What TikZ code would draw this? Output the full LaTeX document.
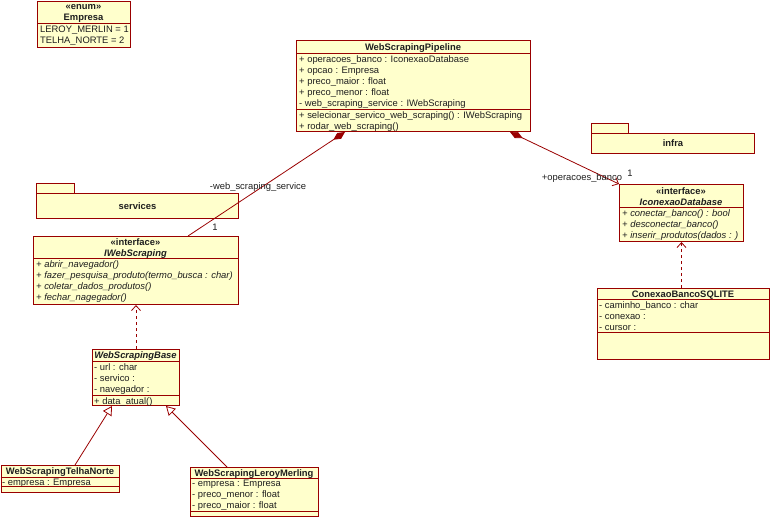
\documentclass[tikz,border=0pt]{standalone}
\usepackage{fontspec}
\setmainfont{Liberation Sans}
\usetikzlibrary{arrows.meta}

\definecolor{umlred}{RGB}{153,0,0}
\definecolor{umlfill}{RGB}{255,255,204}
\definecolor{umltext}{RGB}{30,30,30}
\newcommand{\umlfont}{\fontsize{9.4}{11}\selectfont}

\tikzset{
  every node/.style={font=\umlfont, text=umltext},
  classbox/.style={draw=umlred, fill=umlfill, line width=1pt, anchor=north west, inner sep=0pt},
  pkg/.style={draw=umlred, fill=umlfill, line width=1pt, anchor=north west, inner sep=0pt},
  title/.style={font=\umlfont\bfseries, align=center, inner sep=0pt, yshift=-1.5pt},
  members/.style={anchor=north west, inner sep=0pt, align=left, yshift=-1.8pt},
  sepline/.style={draw=umlred, line width=1pt},
  link/.style={draw=umlred, line width=0.8pt},
  realize/.style={link, dash pattern=on 3pt off 3pt, -{Straight Barb[length=5pt,width=9pt]}},
  inherit/.style={link, -{Triangle[open,length=9pt,width=10pt]}},
}

\begin{document}
\begin{tikzpicture}[x=1pt,y=-1pt]
\useasboundingbox (0,0) rectangle (772,517);

% enum Empresa
\node[classbox, minimum width=93pt, minimum height=46pt] (empresa) at (37,1) {};
\node[title] (empresatitle) at (83.5,12) {«enum»\\Empresa};
\draw[sepline] (37,23) -- (130,23);
\node[members] (empresaattr) at (40,24) {LEROY\_MERLIN = 1\\TELHA\_NORTE = 2};

% WebScrapingPipeline
\node[classbox, minimum width=234pt, minimum height=91pt] (pipeline) at (296,40) {};
\node[title] (pipelinetitle) at (413,46.5) {WebScrapingPipeline};
\draw[sepline] (296,53) -- (530,53);
\node[members] (pipelineattr) at (299,53.5) {+ operacoes\_banco : IconexaoDatabase\\+ opcao : Empresa\\+ preco\_maior : float\\+ preco\_menor : float\\- web\_scraping\_service : IWebScraping};
\draw[sepline] (296,109) -- (530,109);
\node[members] (pipelineops) at (299,109.5) {+ selecionar\_servico\_web\_scraping() : IWebScraping\\+ rodar\_web\_scraping()};

% packages
\node[pkg, minimum width=37pt, minimum height=10pt] (infratab) at (591,123) {};
\node[pkg, minimum width=163pt, minimum height=20pt, font=\umlfont\bfseries] (infra) at (591,133) {infra};
\node[pkg, minimum width=38pt, minimum height=10pt] (servicestab) at (36,183) {};
\node[pkg, minimum width=202pt, minimum height=25pt, font=\umlfont\bfseries] (services) at (36,193) {services};

% interface IWebScraping
\node[classbox, minimum width=205pt, minimum height=68pt] (iwebscraping) at (33,236) {};
\node[title] (iwebtitle) at (135.5,247) {«interface»\\\textit{IWebScraping}};
\draw[sepline] (33,258) -- (238,258);
\node[members, font=\umlfont\itshape] (iwebops) at (36,259) {+ abrir\_navegador()\\+ fazer\_pesquisa\_produto(termo\_busca : char)\\+ coletar\_dados\_produtos()\\+ fechar\_nagegador()};

% interface IconexaoDatabase
\node[classbox, minimum width=124pt, minimum height=57pt] (iconexao) at (619,184) {};
\node[title] (iconexaotitle) at (681,195.5) {«interface»\\\textit{IconexaoDatabase}};
\draw[sepline] (619,207) -- (743,207);
\node[members, font=\umlfont\itshape] (iconexaoops) at (622,207.5) {+ conectar\_banco() : bool\\+ desconectar\_banco()\\+ inserir\_produtos(dados : )};

% ConexaoBancoSQLITE
\node[classbox, minimum width=172pt, minimum height=71pt] (sqlite) at (597,288) {};
\node[title] (sqlitetitle) at (683,293.5) {ConexaoBancoSQLITE};
\draw[sepline] (597,299) -- (769,299);
\node[members] (sqliteattr) at (599,299.5) {- caminho\_banco : char\\- conexao :\\- cursor :};
\draw[sepline] (597,332) -- (769,332);

% WebScrapingBase
\node[classbox, minimum width=87pt, minimum height=56pt] (base) at (92,349) {};
\node[title, font=\umlfont\bfseries\itshape] (basetitle) at (135.5,355) {WebScrapingBase};
\draw[sepline] (92,361) -- (179,361);
\node[members] (baseattr) at (94,361.5) {- url : char\\- servico :\\- navegador :};
\draw[sepline] (92,395) -- (179,395);
\node[members] (baseops) at (94,395.3) {+ data\_atual()};

% WebScrapingTelhaNorte
\node[classbox, minimum width=118.5pt, minimum height=27pt] (telha) at (0.5,465) {};
\node[title] (telhatitle) at (60,471) {WebScrapingTelhaNorte};
\draw[sepline] (0.5,477) -- (119,477);
\node[members] (telhaattr) at (2,477) {- empresa : Empresa};
\draw[sepline] (0.5,486) -- (119,486);

% WebScrapingLeroyMerling
\node[classbox, minimum width=128pt, minimum height=49pt] (leroy) at (190,467) {};
\node[title] (leroytitle) at (254,472.5) {WebScrapingLeroyMerling};
\draw[sepline] (190,478) -- (318,478);
\node[members] (leroyattr) at (192,478.5) {- empresa : Empresa\\- preco\_menor : float\\- preco\_maior : float};
\draw[sepline] (190,511) -- (318,511);

% associations
\draw[link, {Diamond[length=14pt,width=7pt]}-] ([xshift=49pt]pipeline.south west) -- ([xshift=155pt]iwebscraping.north west);
\node (webservicerole) at (258,187) {-web\_scraping\_service};
\node (webservicemult) at (215,227) {1};

\draw[link, {Diamond[length=14pt,width=7pt]}-{Straight Barb[length=5pt,width=9pt]}] ([xshift=214pt]pipeline.south west) -- (iconexao.north west);
\node (bancorole) at (582,178) {+operacoes\_banco};
\node (bancomult) at (630,173) {1};

% realizations
\draw[realize] (sqlite.north -| iconexao.south) -- (iconexao.south);
\draw[realize] (base.north) -- (iwebscraping.south);

% generalizations
\draw[inherit] ([xshift=74.5pt]telha.north west) -- ([xshift=20pt]base.south west);
\draw[inherit] ([xshift=37pt]leroy.north west) -- ([xshift=74pt]base.south west);
\end{tikzpicture}
\end{document}
